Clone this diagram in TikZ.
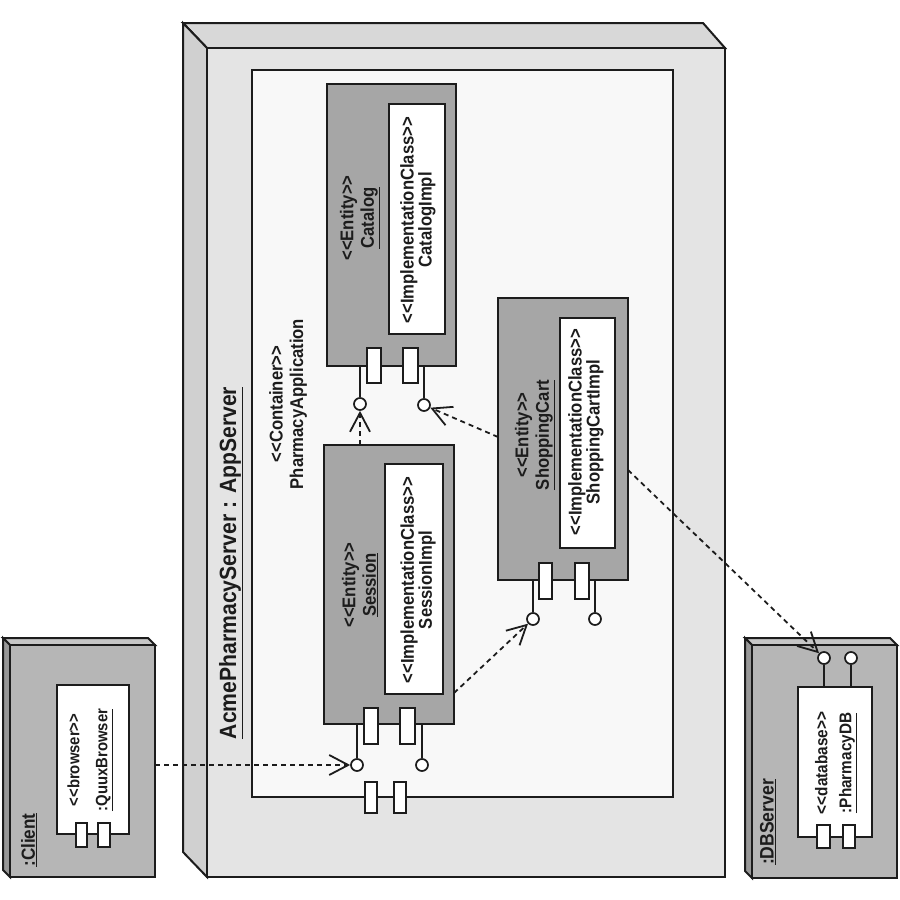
\documentclass[tikz,border=0pt]{standalone}
\usepackage{fontspec}
\setmainfont{Liberation Sans}[Ligatures=NoCommon, FakeStretch=0.9]
\usetikzlibrary{arrows.meta}
\definecolor{ink}{HTML}{1C1C1C}
\definecolor{appfront}{HTML}{E4E4E4}
\definecolor{apptop}{HTML}{D8D8D8}
\definecolor{appside}{HTML}{D0D0D0}
\definecolor{contfill}{HTML}{F8F8F8}
\definecolor{entfill}{HTML}{A6A6A6}
\definecolor{nodefront}{HTML}{B6B6B6}
\definecolor{nodetop}{HTML}{C6C6C6}
\definecolor{nodeside}{HTML}{989898}
\newcommand{\stL}{<{}<}
\newcommand{\stR}{>{}>}
\tikzset{
  outline/.style={draw=ink, line width=2pt, line join=miter},
  boxnode/.style={outline, rectangle, inner sep=0pt, outer sep=0pt, anchor=north west},
  entbox/.style={boxnode, fill=entfill},
  whitebox/.style={boxnode, fill=white},
  portbox/.style={boxnode, fill=white, line width=1.7pt},
  iface/.style={circle, draw=ink, fill=white, line width=1.7pt, minimum size=12pt, inner sep=0pt},
  stem/.style={draw=ink, line width=1.7pt},
  dep/.style={draw=ink, line width=1.8pt, dash pattern=on 5pt off 4pt, -{Straight Barb[length=19pt,width=20pt]}},
  lbl/.style={rotate=90, align=center, inner sep=0pt, text=ink, font=\bfseries\fontsize{18.5}{20.5}\selectfont},
  impl/.style={lbl, font=\bfseries\fontsize{18.5}{18}\selectfont},
}
\begin{document}
\begin{tikzpicture}[x=1pt,y=-1pt]
\useasboundingbox (0,0) rectangle (900,900);
\fill[white] (0,0) rectangle (900,900);

% ---------- AppServer node ----------
\filldraw[outline, fill=apptop] (183,23) -- (703,23) -- (725,48) -- (207,48) -- cycle;
\filldraw[outline, fill=appside] (183,23) -- (207,48) -- (207,877) -- (183,852) -- cycle;
\node[boxnode, fill=appfront, minimum width=518pt, minimum height=829pt] (app) at (207,48) {};
\node[lbl, font=\bfseries\fontsize{23.5}{26}\selectfont] (apptitle) at (231,563) {\underline{AcmePharmacyServer : AppServer}};

% ---------- Container ----------
\node[boxnode, fill=contfill, minimum width=421pt, minimum height=727pt] (cont) at (252,70) {};
\node[lbl] (conttxt) at (288,404) {\stL Container\stR\\PharmacyApplication};
\node[portbox, minimum width=12pt, minimum height=31pt] (cp1) at (365,782) {};
\node[portbox, minimum width=12pt, minimum height=31pt] (cp2) at (394,782) {};

% ---------- Catalog ----------
\node[entbox, minimum width=129pt, minimum height=282pt] (cat) at (327,84) {};
\node[whitebox, minimum width=56pt, minimum height=230pt] (catimpl) at (389,104) {};
\node[lbl] (cattxt) at (360,218) {\stL Entity\stR\\\underline{Catalog}};
\node[impl] (catimpltxt) at (418,220) {\stL ImplementationClass\stR\\CatalogImpl};
\node[portbox, minimum width=14pt, minimum height=35pt] (catp1) at (367,348) {};
\node[portbox, minimum width=15pt, minimum height=35pt] (catp2) at (403,348) {};
\node[iface] (catL) at (360,404) {};
\node[iface] (catR) at (424,405) {};
\draw[stem] (catL |- cat.south) -- (catL);
\draw[stem] (catR |- cat.south) -- (catR);

% ---------- Session ----------
\node[entbox, minimum width=130pt, minimum height=279pt] (sess) at (324,445) {};
\node[whitebox, minimum width=58pt, minimum height=230pt] (sessimpl) at (385,464) {};
\node[lbl] (sesstxt) at (360,585) {\stL Entity\stR\\\underline{Session}};
\node[impl] (sessimpltxt) at (418,580) {\stL ImplementationClass\stR\\SessionImpl};
\node[portbox, minimum width=14pt, minimum height=36pt] (sessp1) at (364,708) {};
\node[portbox, minimum width=15pt, minimum height=36pt] (sessp2) at (400,708) {};
\node[iface] (sessL) at (357,765) {};
\node[iface] (sessR) at (422,765) {};
\draw[stem] (sessL |- sess.south) -- (sessL);
\draw[stem] (sessR |- sess.south) -- (sessR);

% ---------- ShoppingCart ----------
\node[entbox, minimum width=130pt, minimum height=282pt] (cart) at (498,298) {};
\node[whitebox, minimum width=55pt, minimum height=230pt] (cartimpl) at (560,318) {};
\node[lbl] (carttxt) at (535,435) {\stL Entity\stR\\\underline{ShoppingCart}};
\node[impl] (cartimpltxt) at (586,432) {\stL ImplementationClass\stR\\ShoppingCartImpl};
\node[portbox, minimum width=13pt, minimum height=36pt] (cartp1) at (539,563) {};
\node[portbox, minimum width=14pt, minimum height=36pt] (cartp2) at (575,563) {};
\node[iface] (cartL) at (533,619) {};
\node[iface] (cartR) at (595,619) {};
\draw[stem] (cartL |- cart.south) -- (cartL);
\draw[stem] (cartR |- cart.south) -- (cartR);

% ---------- Client node ----------
\filldraw[outline, fill=nodetop] (3,638) -- (148,638) -- (155,645) -- (10,645) -- cycle;
\filldraw[outline, fill=nodeside] (3,638) -- (10,645) -- (10,877) -- (3,870) -- cycle;
\node[boxnode, fill=nodefront, minimum width=145pt, minimum height=232pt] (client) at (10,645) {};
\node[lbl, font=\bfseries\fontsize{19}{21}\selectfont] (clienttxt) at (29,840) {\underline{:Client}};
\node[whitebox, minimum width=72pt, minimum height=149pt] (browser) at (57,685) {};
\node[lbl, font=\bfseries\fontsize{16.5}{28}\selectfont] (browsertxt) at (90,760) {\stL browser\stR\\\underline{:QuuxBrowser}};
\node[portbox, minimum width=11pt, minimum height=24pt] (brp1) at (76,823) {};
\node[portbox, minimum width=12pt, minimum height=24pt] (brp2) at (98,823) {};

% ---------- DBServer node ----------
\filldraw[outline, fill=nodetop] (745,638) -- (890,638) -- (897,645) -- (752,645) -- cycle;
\filldraw[outline, fill=nodeside] (745,638) -- (752,645) -- (752,878) -- (745,871) -- cycle;
\node[boxnode, fill=nodefront, minimum width=145pt, minimum height=233pt] (dbserver) at (752,645) {};
\node[lbl, font=\bfseries\fontsize{19.5}{21}\selectfont] (dbservertxt) at (768,822) {\underline{:DBServer}};
\node[whitebox, minimum width=74pt, minimum height=150pt] (db) at (798,687) {};
\node[lbl, font=\bfseries\fontsize{17}{24}\selectfont] (dbtxt) at (836,763) {\stL database\stR\\\underline{:PharmacyDB}};
\node[portbox, minimum width=13pt, minimum height=23pt] (dbp1) at (817,825) {};
\node[portbox, minimum width=12pt, minimum height=23pt] (dbp2) at (843,825) {};
\node[iface] (dbL) at (824,658) {};
\node[iface] (dbR) at (851,658) {};
\draw[stem] (dbL) -- (dbL |- db.north);
\draw[stem] (dbR) -- (dbR |- db.north);

% ---------- dependencies ----------
\coordinate (fromclient) at (155,765);
\coordinate (fromsesstop) at (360,445);
\coordinate (fromcartleft) at (498,437);
\coordinate (fromsessright) at (454,693);
\coordinate (fromcartright) at (628,470);
\draw[dep] (fromclient) -- (sessL);
\draw[dep] (fromsesstop) -- (catL);
\draw[dep] (fromcartleft) -- (catR);
\draw[dep] (fromsessright) -- (cartL);
\draw[dep] (fromcartright) -- (dbL);
\end{tikzpicture}
\end{document}
